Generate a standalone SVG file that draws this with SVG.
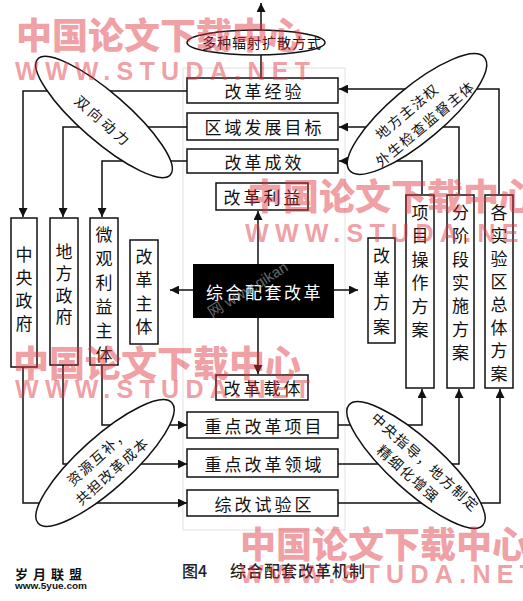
<svg xmlns="http://www.w3.org/2000/svg" width="523" height="601" viewBox="0 0 523 601">
<defs>
<marker id="ah" viewBox="0 0 10 10" refX="10" refY="5" markerWidth="9" markerHeight="9" markerUnits="userSpaceOnUse" orient="auto"><path d="M0,0 L10,5 L0,10 z" fill="#111"/></marker>
<style>
.box{fill:#fff;stroke:#111;stroke-width:1.5}
.ell{fill:#fff;stroke:#111;stroke-width:1.5}
.t{font-family:"Noto Sans CJK SC",sans-serif;font-size:17px;fill:#111;text-anchor:middle;dominant-baseline:central}
.h{letter-spacing:3px}
.e{font-size:14px;letter-spacing:1.5px}
.c{fill:none;stroke:#111;stroke-width:1.5;marker-end:url(#ah)}
.wm{font-family:"Noto Sans CJK SC",sans-serif;font-weight:900;font-size:36px;fill:#e0303c;opacity:.45;dominant-baseline:central}
.wl{font-family:"Liberation Sans",sans-serif;font-weight:700;font-size:25px;fill:#e0303c;opacity:.45}
</style>
</defs>
<rect width="523" height="601" fill="#fff"/>
<rect x="183" y="68" width="162" height="462" fill="none" stroke="#e2e2e2" stroke-width="1"/>

<g id="connectors">
<path class="c" d="M261,30 V3"/>
<path d="M261,55 V78" fill="none" stroke="#111" stroke-width="1.5"/>
<path class="c" d="M187,91 H23 V217"/>
<path class="c" d="M187,127 H63 V217"/>
<path class="c" d="M187,161 H102 V217"/>
<path class="c" d="M499,194 V89 H339"/>
<path class="c" d="M459,194 V127 H339"/>
<path class="c" d="M422,194 V161 H339"/>
<path class="c" d="M258,264 V211"/>
<path class="c" d="M193,290 H170"/>
<path class="c" d="M334,290 H358"/>
<path class="c" d="M258,318 V374"/>
<path class="c" d="M102,365 V425 H187"/>
<path class="c" d="M63,365 V464 H187"/>
<path class="c" d="M23,367 V503 H187"/>
<path class="c" d="M338,425 H422 V389"/>
<path class="c" d="M338,464 H459 V389"/>
<path class="c" d="M338,503 H500 V389"/>
</g>

<g id="n-spread">
<ellipse class="ell" cx="256" cy="42.5" rx="69" ry="12.5"/>
<text class="t e" x="262" y="42" style="letter-spacing:1px">多种辐射扩散方式</text>
</g>
<g id="n-exp"><rect class="box" x="187" y="78" width="151" height="25"/><text class="t h" x="264.5" y="90.5">改革经验</text></g>
<g id="n-goal"><rect class="box" x="187" y="113" width="151" height="27"/><text class="t h" x="264.5" y="126.5">区域发展目标</text></g>
<g id="n-effect"><rect class="box" x="187" y="149" width="151" height="24"/><text class="t h" x="264.5" y="161">改革成效</text></g>
<g id="n-benefit"><rect class="box" x="216" y="183" width="92" height="27"/><text class="t h" x="263.5" y="196.5">改革利益</text></g>

<g id="n-core"><rect x="193" y="264" width="141" height="54" fill="#000"/><text class="t" x="264.5" y="291" style="fill:#fff;font-size:17px;letter-spacing:2.5px">综合配套改革</text></g>

<g id="n-carrier"><rect class="box" x="216" y="375" width="92" height="25"/><text class="t h" x="263.5" y="387.5">改革载体</text></g>
<g id="n-proj"><rect class="box" x="187" y="412" width="151" height="26"/><text class="t h" x="264.5" y="425">重点改革项目</text></g>
<g id="n-field"><rect class="box" x="187" y="449" width="151" height="28"/><text class="t h" x="264.5" y="463">重点改革领域</text></g>
<g id="n-zone"><rect class="box" x="187" y="490" width="151" height="26"/><text class="t h" x="264.5" y="503">综改试验区</text></g>

<g id="n-central"><rect class="box" x="11" y="218" width="26" height="149"/>
<text class="t"><tspan x="24" y="253">中</tspan><tspan x="24" y="276">央</tspan><tspan x="24" y="299">政</tspan><tspan x="24" y="322">府</tspan></text></g>
<g id="n-local"><rect class="box" x="50" y="218" width="28" height="147"/>
<text class="t"><tspan x="64" y="250">地</tspan><tspan x="64" y="272">方</tspan><tspan x="64" y="294">政</tspan><tspan x="64" y="315">府</tspan></text></g>
<g id="n-micro"><rect class="box" x="90" y="218" width="28" height="147"/>
<text class="t"><tspan x="104" y="233">微</tspan><tspan x="104" y="257">观</tspan><tspan x="104" y="281">利</tspan><tspan x="104" y="305">益</tspan><tspan x="104" y="329">主</tspan><tspan x="104" y="353">体</tspan></text></g>
<g id="n-subject"><rect class="box" x="130" y="240" width="28" height="104"/>
<text class="t"><tspan x="144" y="255">改</tspan><tspan x="144" y="278">革</tspan><tspan x="144" y="302">主</tspan><tspan x="144" y="325">体</tspan></text></g>
<g id="n-plan"><rect class="box" x="368" y="238" width="27" height="105"/>
<text class="t"><tspan x="381.5" y="254">改</tspan><tspan x="381.5" y="278">革</tspan><tspan x="381.5" y="301">方</tspan><tspan x="381.5" y="325">案</tspan></text></g>
<g id="n-op"><rect class="box" x="406" y="195" width="28" height="193"/>
<text class="t"><tspan x="420" y="211">项</tspan><tspan x="420" y="234">目</tspan><tspan x="420" y="258">操</tspan><tspan x="420" y="281">作</tspan><tspan x="420" y="305">方</tspan><tspan x="420" y="328">案</tspan></text></g>
<g id="n-stage"><rect class="box" x="447" y="195" width="27" height="193"/>
<text class="t"><tspan x="460.5" y="211">分</tspan><tspan x="460.5" y="234">阶</tspan><tspan x="460.5" y="258">段</tspan><tspan x="460.5" y="281">实</tspan><tspan x="460.5" y="304">施</tspan><tspan x="460.5" y="328">方</tspan><tspan x="460.5" y="351">案</tspan></text></g>
<g id="n-overall"><rect class="box" x="485" y="195" width="28" height="193"/>
<text class="t"><tspan x="499" y="211">各</tspan><tspan x="499" y="234">实</tspan><tspan x="499" y="257">验</tspan><tspan x="499" y="280">区</tspan><tspan x="499" y="303">总</tspan><tspan x="499" y="326">体</tspan><tspan x="499" y="349">方</tspan><tspan x="499" y="372">案</tspan></text></g>

<g id="n-twoway" transform="translate(104,117) rotate(41)">
<ellipse class="ell" cx="0" cy="0" rx="88" ry="24"/>
<text class="t e" x="2.5" y="3" style="letter-spacing:3.5px">双向动力</text>
</g>
<g id="n-legis" transform="translate(417,114) rotate(-40)">
<ellipse class="ell" cx="0" cy="0" rx="88" ry="27"/>
<text class="t e" x="-6" y="-9">地方主法权</text>
<text class="t e" x="0" y="12">外生检查监督主体</text>
</g>
<g id="n-resource" transform="translate(105,463) rotate(-42)">
<ellipse class="ell" cx="0" cy="0" rx="90" ry="26"/>
<text class="t e" x="-1" y="-10">资源互补，</text>
<text class="t e" x="0" y="10">共担改革成本</text>
</g>
<g id="n-guide" transform="translate(416,465) rotate(42)">
<ellipse class="ell" cx="0" cy="0" rx="90" ry="26"/>
<text class="t e" x="5" y="-9">中央指导，地方制定</text>
<text class="t e" x="0" y="11">精细化增强</text>
</g>

<text x="182" y="570" style="font-family:'Noto Sans CJK SC',sans-serif;font-size:16px;font-weight:500;fill:#222;dominant-baseline:central">图4</text>
<text x="230" y="570" style="font-family:'Noto Sans CJK SC',sans-serif;font-size:16px;font-weight:500;fill:#222;letter-spacing:1px;dominant-baseline:central">综合配套改革机制</text>
<text x="15" y="573" style="font-family:'Noto Sans CJK SC',sans-serif;font-size:13px;font-weight:700;fill:#111;letter-spacing:5px;dominant-baseline:central">岁月联盟</text>
<text x="15" y="589" textLength="72" lengthAdjust="spacingAndGlyphs" style="font-family:'Liberation Sans',sans-serif;font-size:9px;font-weight:700;fill:#111">www.5yue.com</text>

<text transform="translate(212,318) rotate(-32)" style="font-family:'Liberation Sans','Noto Sans CJK SC',sans-serif;font-size:15px;fill:#aaa;opacity:.6">网 www.qikan</text>

<g id="watermarks">
<text class="wm" x="16" y="32.5">中国论文下载中心</text>
<text class="wl" x="15" y="80" textLength="295" lengthAdjust="spacing">WWW.STUDA.NET</text>
<text class="wm" x="247" y="193.5">中国论文下载中心</text>
<text class="wl" x="245" y="242" textLength="295" lengthAdjust="spacing">WWW.STUDA.NET</text>
<text class="wm" x="13" y="361">中国论文下载中心</text>
<text class="wl" x="15" y="398" textLength="295" lengthAdjust="spacing">WWW.STUDA.NET</text>
<text class="wm" x="240" y="542">中国论文下载中心</text>
<text class="wl" x="240" y="583" textLength="295" lengthAdjust="spacing">WWW.STUDA.NET</text>
</g>
</svg>
